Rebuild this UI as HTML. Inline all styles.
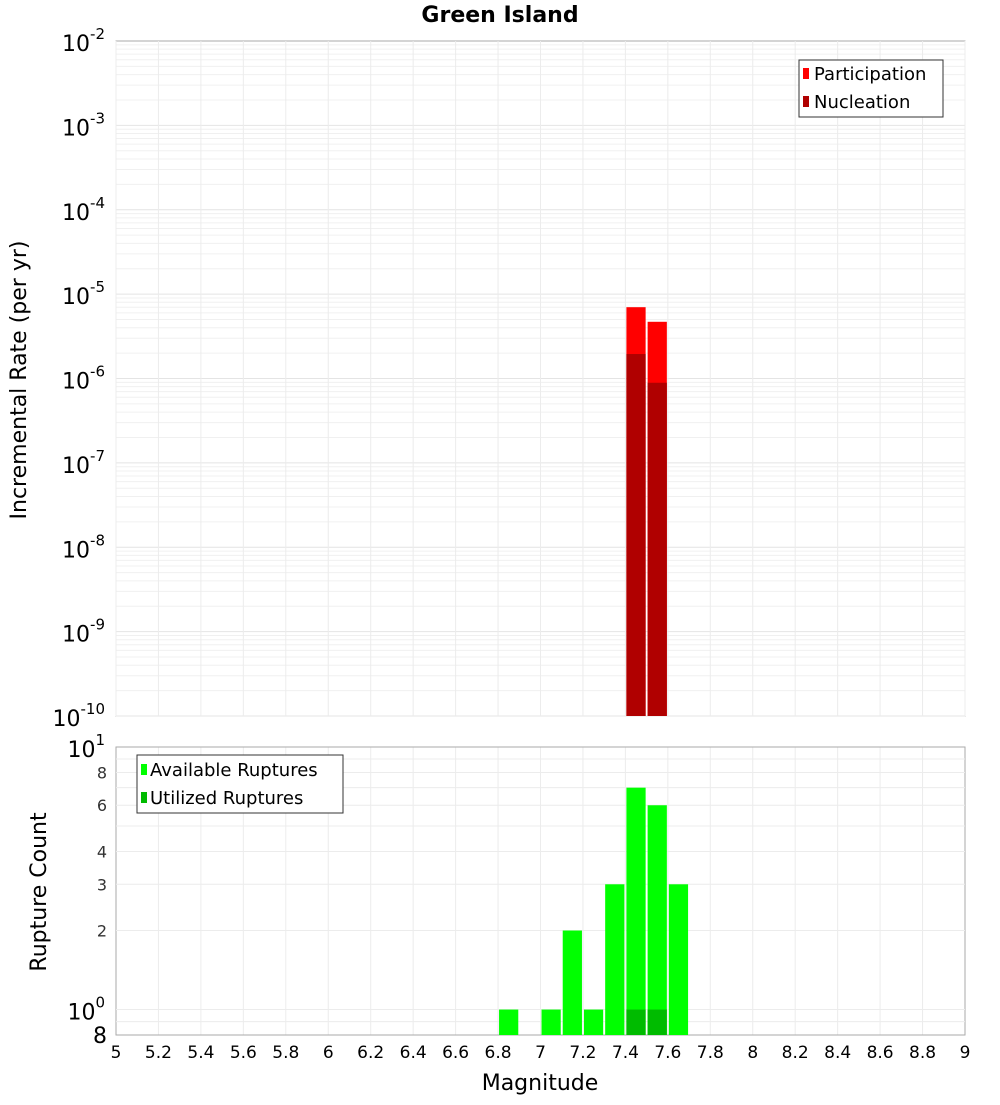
<!DOCTYPE html>
<html><head><meta charset="utf-8"><style>
body{margin:0;background:#fff;font-family:"Liberation Sans","DejaVu Sans",sans-serif}
svg text{font-family:"DejaVu Sans","Liberation Sans",sans-serif}
</style></head><body>
<svg id="c" width="1000" height="1100" xmlns="http://www.w3.org/2000/svg"></svg>
<script>
const xBins=[7.45,7.55];
const partRates=[7.0e-6,4.7e-6];
const nuclRates=[1.95e-6,8.9e-7];
const countBins=[6.85,7.05,7.15,7.25,7.35,7.45,7.55,7.65];
const availCounts=[1,1,2,1,3,7,6,3];
const utilBins=[7.45,7.55];
const utilCounts=[1,1];
const xTicks=[5,5.2,5.4,5.6,5.8,6,6.2,6.4,6.6,6.8,7,7.2,7.4,7.6,7.8,8,8.2,8.4,8.6,8.8,9];
const topExps=[-2,-3,-4,-5,-6,-7,-8,-9,-10];
const botTicks=[8,6,4,3,2];

const S=document.getElementById('c'),NS='http://www.w3.org/2000/svg';
function el(t,a,txt){const e=document.createElementNS(NS,t);for(const k in a)e.setAttribute(k,a[k]);if(txt!==undefined)e.textContent=txt;S.appendChild(e);return e;}
const X0=116,X1=965;
const xs=v=>X0+(v-5)/4*(X1-X0);
const T0=41,T1=716;
const yt=v=>T0+(-2-Math.log10(v))/8*(T1-T0);
const B0=747,B1=1035;
const lo=Math.log10(0.8);
const yb=v=>B1-(Math.log10(v)-lo)/(1-lo)*(B1-B0);

// top panel
let r=el('rect',{x:X0,y:T0,width:X1-X0,height:T1-T0,fill:'#fff',stroke:'#aaa'});

for(let d=-10;d<-2;d++)for(let m=1;m<10;m++){const y=yt(m*Math.pow(10,d));el('line',{x1:X0,x2:X1,y1:y,y2:y,stroke:m==1?'#e4e4e4':'#f0f0f0'});}
xTicks.forEach(v=>{el('line',{x1:xs(v),x2:xs(v),y1:T0,y2:T1,stroke:'#ececec'});el('line',{x1:xs(v),x2:xs(v),y1:B0,y2:B1,stroke:'#ececec'});});
topExps.forEach(e=>{const y=yt(Math.pow(10,e));
 const t=el('text',{x:105,y:y+10,'text-anchor':'end','font-size':22});
 t.innerHTML='10<tspan dy="-12" font-size="15">'+e+'</tspan>';});
const bw=(X1-X0)/40;
xBins.forEach((b,i)=>{
 let a=el('rect',{x:xs(b-0.05)+1,y:yt(partRates[i]),width:bw-2,height:T1-yt(partRates[i]),fill:'#ff0000'});
 
 let n=el('rect',{x:xs(b-0.05)+1,y:yt(nuclRates[i]),width:bw-2,height:T1-yt(nuclRates[i]),fill:'#b00000'});
 
});
let lg=el('rect',{x:799,y:60,width:144,height:57,fill:'#fff',stroke:'#333'});
el('rect',{x:803,y:68,width:6,height:11,fill:'#ff0000'});el('text',{x:814,y:80,'font-size':18},'Participation');
el('rect',{x:803,y:96,width:6,height:11,fill:'#b00000'});el('text',{x:814,y:108,'font-size':18},'Nucleation');

// bottom panel
r=el('rect',{x:X0,y:B0,width:X1-X0,height:B1-B0,fill:'none',stroke:'#aaa'});

[0.9,1,2,3,4,5,6,7,8,9].forEach(v=>{const y=yb(v);el('line',{x1:X0,x2:X1,y1:y,y2:y,stroke:'#ececec'});});
botTicks.forEach(v=>{const t=el('text',{x:107,y:yb(v)+6,'text-anchor':'end','font-size':16,fill:'#333'},v);});
let t=el('text',{x:107,y:1043,'text-anchor':'end','font-size':22},'8');
t=el('text',{x:105,y:yb(10)+10,'text-anchor':'end','font-size':22});t.innerHTML='10<tspan dy="-12" font-size="15">1</tspan>';
t=el('text',{x:105,y:yb(1)+10,'text-anchor':'end','font-size':22});t.innerHTML='10<tspan dy="-12" font-size="15">0</tspan>';
countBins.forEach((b,i)=>{const y=yb(availCounts[i]);
 const a=el('rect',{x:xs(b-0.05)+1,y:y,width:bw-2,height:B1-y,fill:'#00ff00'});});
utilBins.forEach((b,i)=>{const y=yb(utilCounts[i]);
 const a=el('rect',{x:xs(b-0.05)+1,y:y,width:bw-2,height:B1-y,fill:'#00bb00'});});
lg=el('rect',{x:137,y:755,width:206,height:58,fill:'#fff',stroke:'#333'});
el('rect',{x:141,y:764,width:6,height:11,fill:'#00ff00'});el('text',{x:150,y:776,'font-size':18},'Available Ruptures');
el('rect',{x:141,y:792,width:6,height:11,fill:'#00bb00'});el('text',{x:150,y:804,'font-size':18},'Utilized Ruptures');
xTicks.forEach(v=>{const x=el('text',{x:xs(v),y:1058,'text-anchor':'middle','font-size':17},String(v));});

t=el('text',{x:500,y:22,'text-anchor':'middle','font-size':22,'font-weight':'bold'},'Green Island');
t=el('text',{x:540,y:1090,'text-anchor':'middle','font-size':22},'Magnitude');
t=el('text',{x:0,y:0,'text-anchor':'middle','font-size':22,transform:'translate(26,380) rotate(-90)'},'Incremental Rate (per yr)');
t=el('text',{x:0,y:0,'text-anchor':'middle','font-size':22,transform:'translate(46,892) rotate(-90)'},'Rupture Count');
</script>
</body></html>
